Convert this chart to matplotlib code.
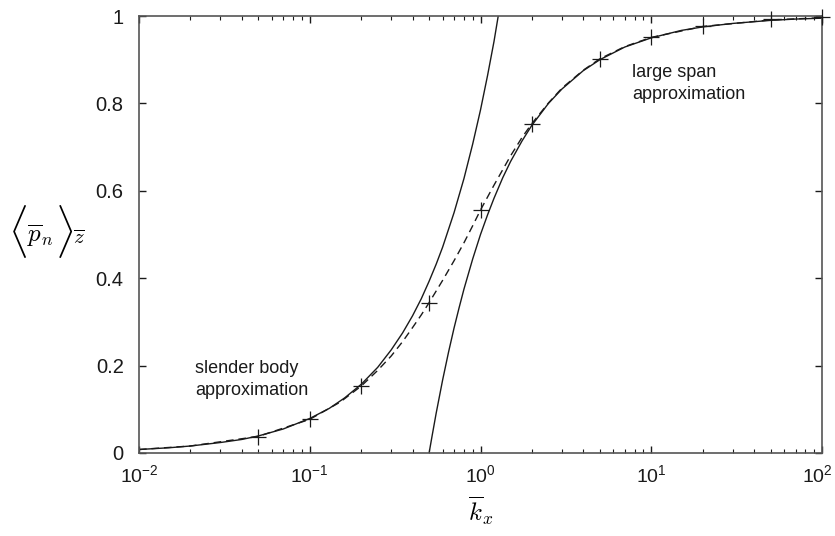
import numpy as np
import matplotlib
matplotlib.use("Agg")
import matplotlib.pyplot as plt
from matplotlib.ticker import LogLocator, FixedLocator, FuncFormatter, NullFormatter
from matplotlib.transforms import ScaledTranslation

plt.rcParams['font.family'] = ['Liberation Sans', 'DejaVu Sans']
plt.rcParams['mathtext.fontset'] = 'cm'

# slender body approximation
slender_x = [0.01, 0.015, 0.02, 0.03, 0.04, 0.05, 0.07, 0.1, 0.13, 0.16, 0.2, 0.25, 0.3,
             0.35, 0.4, 0.45, 0.5, 0.55, 0.6, 0.7, 0.8, 0.9, 1.0, 1.1, 1.2, 1.27]
slender_y = [0.008, 0.012, 0.016, 0.024, 0.031, 0.039, 0.055, 0.079, 0.102, 0.126,
             0.157, 0.196, 0.236, 0.275, 0.314, 0.353, 0.393, 0.432, 0.471, 0.55,
             0.628, 0.707, 0.785, 0.864, 0.942, 1.0]

# large span approximation
large_x = [0.5, 0.52, 0.55, 0.6, 0.65, 0.7, 0.75, 0.8, 0.9, 1.0, 1.1, 1.2, 1.35, 1.5,
           1.75, 2, 2.5, 3, 4, 5, 7, 10, 15, 20, 30, 50, 70, 100]
large_y = [0.0, 0.038, 0.091, 0.167, 0.231, 0.286, 0.333, 0.375, 0.444, 0.5, 0.545,
           0.583, 0.63, 0.667, 0.714, 0.75, 0.8, 0.833, 0.875, 0.9, 0.929, 0.95,
           0.967, 0.975, 0.983, 0.99, 0.993, 0.995]

# exact solution (dashed)
exact_x = [0.01, 0.02, 0.05, 0.1, 0.15, 0.2, 0.25, 0.3, 0.35, 0.4, 0.45, 0.5, 0.6, 0.7,
           0.8, 0.9, 1.0, 1.2, 1.5, 1.75, 2, 2.5, 3, 4, 5, 7, 10, 20, 50, 100]
exact_y = [0.008, 0.016, 0.038, 0.077, 0.116, 0.153, 0.189, 0.222, 0.255, 0.287,
           0.316, 0.344, 0.395, 0.44, 0.481, 0.52, 0.556, 0.613, 0.68, 0.722, 0.754,
           0.801, 0.835, 0.876, 0.902, 0.930, 0.951, 0.976, 0.991, 0.996]

# computed points (+ markers)
pts_x = [0.05, 0.1, 0.2, 0.5, 1, 2, 5, 10, 20, 50, 100]
pts_y = [0.037, 0.077, 0.153, 0.344, 0.556, 0.754, 0.902, 0.951, 0.978, 0.993, 0.998]

W, H = 835, 536
fig = plt.figure(figsize=(W / 100, H / 100), dpi=100)
ax = fig.add_axes([139 / W, 1 - 453 / H, 683 / W, 437 / H])

ax.plot(slender_x, slender_y, color='#1a1a1a', lw=1.0)
ax.plot(large_x, large_y, color='#1a1a1a', lw=1.0)
ax.plot(exact_x, exact_y, color='#1a1a1a', lw=1.0, dashes=(5.5, 3.5))
ax.plot(pts_x, pts_y, ls='none', marker='+', ms=11, mew=0.9, color='#1a1a1a',
        clip_on=False, zorder=5)

ax.set_xscale('log')
ax.set_xlim(1e-2, 1e2)
ax.set_ylim(0, 1)

ax.xaxis.set_major_locator(LogLocator(base=10, numticks=10))
ax.xaxis.set_minor_locator(LogLocator(base=10, subs=np.arange(2, 10), numticks=20))
ax.xaxis.set_minor_formatter(NullFormatter())
ax.yaxis.set_major_locator(FixedLocator([0, 0.2, 0.4, 0.6, 0.8, 1.0]))
ax.yaxis.set_major_formatter(FuncFormatter(lambda v, p: '%g' % v))

ax.tick_params(which='both', direction='in', top=True, right=True, colors='#1a1a1a')
ax.tick_params(which='major', length=5, width=1.0)
ax.tick_params(which='minor', length=3, width=0.8)
ax.tick_params(axis='x', pad=8, labelsize=14)
ax.tick_params(axis='y', pad=11, labelsize=14.5)
for s in ax.spines.values():
    s.set_color('#555555')
    s.set_linewidth(1.2)

ax.set_xlabel(r'$\overline{k}_x$', fontsize=18, labelpad=6)

# y label built from pieces so the angle brackets can be tall
def fxy(px, py):
    return px / W, 1 - py / H

fig.text(*fxy(8, 232), r'$\langle$', fontsize=31, ha='left', va='center')
fig.text(*fxy(27, 236), r'$\overline{p}_n$', fontsize=18, ha='left', va='center')
fig.text(*fxy(55, 232), r'$\rangle$', fontsize=31, ha='left', va='center')
fig.text(*fxy(73, 238), r'$\overline{z}$', fontsize=15, ha='left', va='center')

ax.text(0.0213, 0.168, 'slender body\napproximation', fontsize=13, va='center',
        ha='left', linespacing=1.35, color='#1a1a1a')
ax.text(7.74, 0.845, 'large span\napproximation', fontsize=13, va='center',
        ha='left', linespacing=1.35, color='#1a1a1a')

# keep the 10^2 label inside the canvas
fig.canvas.draw()
for t in ax.xaxis.get_major_ticks():
    if abs(t.get_loc() - 100) < 1e-6:
        t.label1.set_transform(t.label1.get_transform() +
                               ScaledTranslation(-5 / 100, 0, fig.dpi_scale_trans))

fig.savefig('out.png', dpi=100)
